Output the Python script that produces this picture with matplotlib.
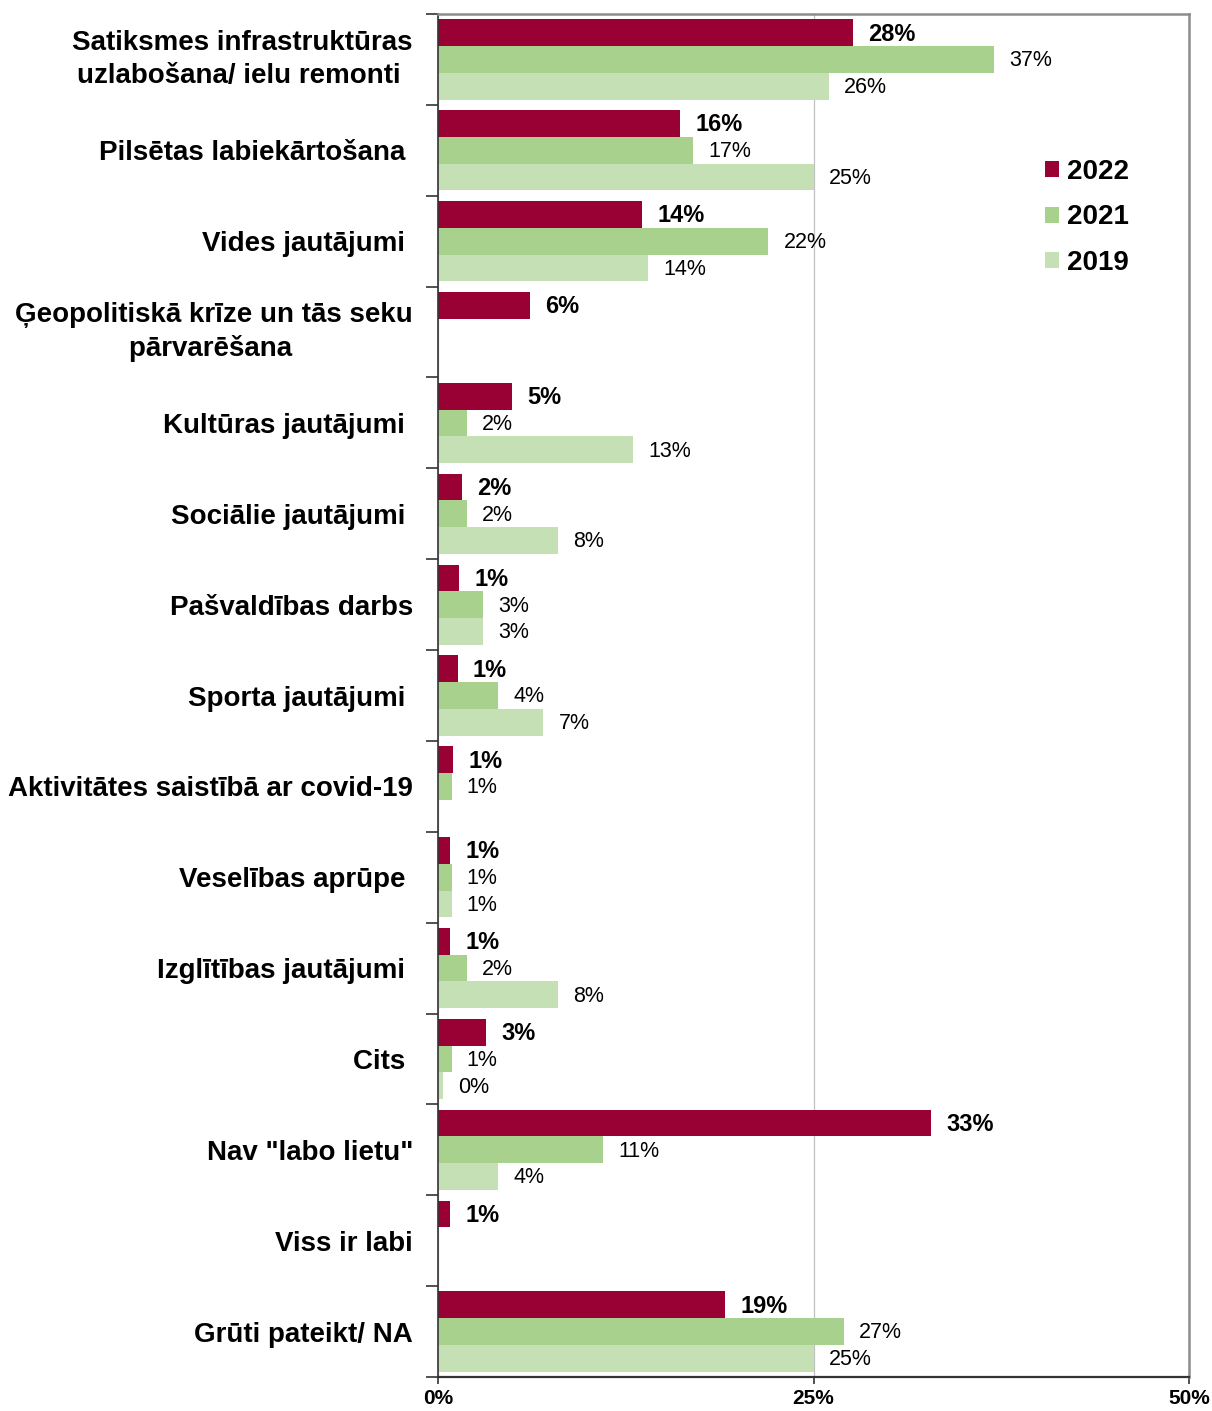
import matplotlib
matplotlib.use('Agg')
import matplotlib.pyplot as plt
import numpy as np
from matplotlib.patches import Patch

plt.rcParams['font.family'] = ['Liberation Sans', 'DejaVu Sans']

# Categories (trailing space where the original label sits a bit further left)
categories = [
    'Satiksmes infrastruktūras\nuzlabošana/ ielu remonti ',
    'Pilsētas labiekārtošana ',
    'Vides jautājumi ',
    'Ģeopolitiskā krīze un tās seku\npārvarēšana ',
    'Kultūras jautājumi ',
    'Sociālie jautājumi ',
    'Pašvaldības darbs',
    'Sporta jautājumi ',
    'Aktivitātes saistībā ar covid-19',
    'Veselības aprūpe ',
    'Izglītības jautājumi ',
    'Cits ',
    'Nav "labo lietu"',
    'Viss ir labi',
    'Grūti pateikt/ NA',
]

# Values in % (None = no bar)
vals_2022 = [27.6, 16.1, 13.6, 6.1, 4.9, 1.6, 1.4, 1.3, 1.0, 0.8, 0.8, 3.2, 32.8, 0.8, 19.1]
vals_2021 = [37.0, 17.0, 22.0, None, 1.9, 1.9, 3.0, 4.0, 0.9, 0.9, 1.9, 0.9, 11.0, None, 27.0]
vals_2019 = [26.0, 25.0, 14.0, None, 13.0, 8.0, 3.0, 7.0, None, 0.9, 8.0, 0.3, 4.0, None, 25.0]

years = ['2022', '2021', '2019']
colors = ['#990033', '#a9d18e', '#c5e0b4']
series = [vals_2022, vals_2021, vals_2019]

fig = plt.figure(figsize=(12.12, 14.11), dpi=100)
ax = fig.add_axes([438 / 1212, 1 - 1377 / 1411, (1189 - 438) / 1212, (1377 - 14) / 1411])

y = np.arange(len(categories))
h = 0.294

for k, (vals, col) in enumerate(zip(series, colors)):
    offset = (k - 1) * h
    for i, v in enumerate(vals):
        if v is None:
            continue
        ax.barh(y[i] + offset, v, height=h, color=col, edgecolor='none')
        ax.annotate(f'{round(v)}%', xy=(v, y[i] + offset), xytext=(11, -1),
                    textcoords='offset points', va='center', ha='left',
                    fontsize=17 if k == 0 else 15.5,
                    fontweight='bold' if k == 0 else 'normal', color='black')

ax.set_xlim(0, 50)
ax.set_ylim(len(categories) - 0.5, -0.5)

ax.set_yticks(y)
ax.set_yticklabels(categories, fontsize=20, fontweight='bold',
                   multialignment='center', linespacing=1.35)
# two-line labels are centred on the category
for lbl in ax.get_yticklabels():
    if '\n' in lbl.get_text():
        lbl.set_va('center')
ax.tick_params(axis='y', which='major', length=0, pad=18)
ax.set_yticks(np.arange(-0.5, len(categories), 1), minor=True)
ax.tick_params(axis='y', which='minor', length=9, width=1.2, color='#333333', direction='out')

ax.set_xticks([0, 25, 50])
ax.set_xticklabels(['0%', '25%', '50%'], fontsize=15, fontweight='bold')
ax.tick_params(axis='x', length=5, width=1.2, color='#333333', pad=4)

ax.xaxis.grid(True, color='#c0c0c0', linewidth=0.9)
ax.set_axisbelow(True)

ax.spines['left'].set_color('#333333')
ax.spines['left'].set_linewidth(1.2)
ax.spines['bottom'].set_color('#333333')
ax.spines['bottom'].set_linewidth(1.6)
ax.spines['top'].set_color('#8c8c8c')
ax.spines['top'].set_linewidth(1.8)
ax.spines['right'].set_color('#8c8c8c')
ax.spines['right'].set_linewidth(1.8)

handles = [Patch(facecolor=c, edgecolor='none') for c in colors]
leg = fig.legend(handles, years, loc='upper left', bbox_to_anchor=(1045 / 1212, 1 - 159 / 1411),
                 frameon=False, prop={'size': 20, 'weight': 'bold'},
                 handlelength=0.5, handleheight=0.5, handletextpad=0.3,
                 labelspacing=0.7, borderpad=0, borderaxespad=0)

fig.savefig('out.png', dpi=100)
